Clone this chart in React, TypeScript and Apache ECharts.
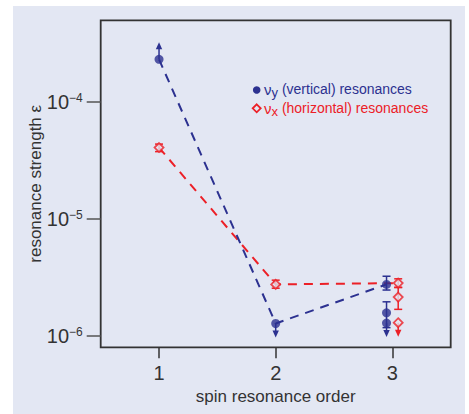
import React, { useEffect, useRef } from "react";
import * as echarts from "echarts";

// Spin resonance order (x) and measured resonance strength (y) per family
const VY_ORDER = [1, 2, 2.95, 2.95, 2.95];
const VY_STRENGTH = [2.3e-4, 1.28e-6, 2.76e-6, 1.58e-6, 1.29e-6];
const VY_TREND_COUNT = 3; // points joined by the dashed trend line

const VX_ORDER = [1, 2, 3.05, 3.05, 3.05];
const VX_STRENGTH = [4.06e-5, 2.76e-6, 2.83e-6, 2.15e-6, 1.3e-6];
const VX_TREND_COUNT = 3;

// Error bars: order, low, high
const VY_ERR_ORDER = [2.95, 2.95];
const VY_ERR_LOW = [2.47e-6, 1.18e-6];
const VY_ERR_HIGH = [3.24e-6, 1.96e-6];

const VX_ERR_ORDER = [1, 2, 3.05, 3.05];
const VX_ERR_LOW = [3.75e-5, 2.56e-6, 2.6e-6, 1.69e-6];
const VX_ERR_HIGH = [4.35e-5, 3.0e-6, 3.08e-6, 2.6e-6];

// Limits: order, strength, direction (+1 lower limit / arrow up, -1 upper limit / arrow down)
const VY_LIM_ORDER = [1, 2, 2.95];
const VY_LIM_VALUE = [2.3e-4, 1.28e-6, 1.29e-6];
const VY_LIM_DIR = [1, -1, -1];

const VX_LIM_ORDER = [3.05];
const VX_LIM_VALUE = [1.3e-6];
const VX_LIM_DIR = [-1];

const X_TICKS = [1, 2, 3];
const Y_DECADES = [-6, -5, -4];

const BLUE = "#2c3190";
const RED = "#ec2027";
const BG = "#e3e7f3";
const INK = "#333333";
const FONT = "'Liberation Sans', Arial, sans-serif";

const lg = (v: number) => Math.log10(v);

function points(xs: number[], ys: number[], n = xs.length) {
  return xs.slice(0, n).map((x, i) => [x, lg(ys[i])]);
}

function errorSeries(xs: number[], lo: number[], hi: number[], color: string) {
  return {
    type: "custom",
    z: 3,
    data: xs.map((x, i) => [x, lg(lo[i]), lg(hi[i])]),
    encode: { x: 0, y: [1, 2] },
    renderItem: (_p: any, api: any) => {
      const x = api.value(0);
      const a = api.coord([x, api.value(1)]);
      const b = api.coord([x, api.value(2)]);
      const w = 4;
      const style = { stroke: color, lineWidth: 1.5 };
      return {
        type: "group",
        children: [
          { type: "line", shape: { x1: a[0], y1: a[1], x2: b[0], y2: b[1] }, style },
          { type: "line", shape: { x1: a[0] - w, y1: a[1], x2: a[0] + w, y2: a[1] }, style },
          { type: "line", shape: { x1: b[0] - w, y1: b[1], x2: b[0] + w, y2: b[1] }, style },
        ],
      };
    },
  };
}

function limitSeries(xs: number[], vs: number[], dirs: number[], color: string) {
  return {
    type: "custom",
    z: 3,
    data: xs.map((x, i) => [x, lg(vs[i]), dirs[i]]),
    encode: { x: 0, y: 1 },
    renderItem: (_p: any, api: any) => {
      const p = api.coord([api.value(0), api.value(1)]);
      const dir = api.value(2);
      const len = dir > 0 ? 17 : 14;
      const tip = p[1] - dir * len;
      const head = 7;
      return {
        type: "group",
        children: [
          {
            type: "line",
            shape: { x1: p[0], y1: p[1], x2: p[0], y2: tip + dir * head * 0.6 },
            style: { stroke: color, lineWidth: 1.5 },
          },
          {
            type: "polygon",
            shape: {
              points: [
                [p[0] - 3.2, tip + dir * head],
                [p[0] + 3.2, tip + dir * head],
                [p[0], tip],
              ],
            },
            style: { fill: color },
          },
        ],
      };
    },
  };
}

function legendText(sub: string, rest: string, color: string) {
  return {
    text: `{g|\u03bd}{sub|${sub}}{t| ${rest}}`,
    verticalAlign: "middle",
    rich: {
      g: { fontSize: 15, lineHeight: 20, fill: color, fontFamily: FONT },
      sub: { fontSize: 13, lineHeight: 10, verticalAlign: "bottom", fill: color, fontFamily: FONT },
      t: { fontSize: 14, lineHeight: 20, fill: color, fontFamily: FONT },
    },
  };
}

export default function App() {
  const ref = useRef<HTMLDivElement>(null);

  useEffect(() => {
    if (!ref.current) return;
    const chart = echarts.init(ref.current, undefined, { renderer: "svg" });

    const option: any = {
      animation: false,
      backgroundColor: "#ffffff",
      textStyle: { fontFamily: FONT },
      grid: {
        left: 100.7,
        right: 18.3,
        top: 20.3,
        bottom: 66.7,
        show: true,
        borderColor: INK,
        borderWidth: 1.8,
        backgroundColor: "transparent",
      },
      xAxis: {
        type: "value",
        min: 0.5,
        max: 3.5,
        splitLine: { show: false },
        axisLine: { show: false },
        axisTick: {
          show: true,
          customValues: X_TICKS,
          length: 11,
          lineStyle: { color: INK, width: 1.5 },
        },
        axisLabel: {
          customValues: X_TICKS,
          margin: 16,
          color: INK,
          fontSize: 20,
          fontFamily: FONT,
        },
        name: "spin resonance order",
        nameLocation: "middle",
        nameGap: 41,
        nameMoveOverlap: false,
        nameTextStyle: { color: INK, fontSize: 17, fontFamily: FONT },
      },
      yAxis: {
        type: "value",
        min: -6.096,
        max: -3.305,
        splitLine: { show: false },
        axisLine: { show: false },
        axisTick: {
          show: true,
          customValues: Y_DECADES,
          length: 14,
          lineStyle: { color: "#555555", width: 1.5 },
        },
        axisLabel: {
          customValues: Y_DECADES,
          margin: 18,
          color: INK,
          fontFamily: FONT,
          formatter: (v: number) => `{b|10}{s|\u2212${Math.abs(Math.round(v))}}`,
          rich: {
            b: { fontSize: 20, lineHeight: 20, color: INK, fontFamily: FONT },
            s: { fontSize: 12, lineHeight: 13, verticalAlign: "top", color: INK, fontFamily: FONT },
          },
        },
        name: "resonance strength \u03b5",
        nameLocation: "middle",
        nameGap: 57,
        nameMoveOverlap: false,
        nameTextStyle: { color: INK, fontSize: 17, fontFamily: FONT },
      },
      graphic: [
        {
          type: "rect",
          z: -100,
          silent: true,
          shape: { x: 13, y: 6, width: 452, height: 408 },
          style: { fill: BG },
        },
        {
          type: "circle",
          shape: { cx: 256.7, cy: 90, r: 3.8 },
          style: { fill: BLUE },
        },
        {
          type: "text",
          x: 264,
          y: 89,
          style: legendText("y", "(vertical) resonances", BLUE),
        },
        {
          type: "polygon",
          shape: {
            points: [
              [256.7, 104.3],
              [260.7, 108.3],
              [256.7, 112.3],
              [252.7, 108.3],
            ],
          },
          style: { fill: BG, stroke: RED, lineWidth: 1.8 },
        },
        {
          type: "text",
          x: 264,
          y: 108,
          style: legendText("x", "(horizontal) resonances", RED),
        },
      ],
      series: [
        {
          type: "line",
          z: 1,
          data: points(VX_ORDER, VX_STRENGTH, VX_TREND_COUNT),
          symbol: "none",
          lineStyle: { color: RED, width: 2, type: [9, 7] },
        },
        {
          type: "line",
          z: 2,
          data: points(VY_ORDER, VY_STRENGTH, VY_TREND_COUNT),
          symbol: "none",
          lineStyle: { color: BLUE, width: 2, type: [9, 7] },
        },
        errorSeries(VY_ERR_ORDER, VY_ERR_LOW, VY_ERR_HIGH, BLUE),
        errorSeries(VX_ERR_ORDER, VX_ERR_LOW, VX_ERR_HIGH, RED),
        limitSeries(VY_LIM_ORDER, VY_LIM_VALUE, VY_LIM_DIR, BLUE),
        limitSeries(VX_LIM_ORDER, VX_LIM_VALUE, VX_LIM_DIR, RED),
        {
          type: "scatter",
          z: 4,
          data: points(VY_ORDER, VY_STRENGTH),
          symbol: "circle",
          symbolSize: 9,
          itemStyle: { color: BLUE },
        },
        {
          type: "scatter",
          z: 4,
          data: points(VX_ORDER, VX_STRENGTH),
          symbol: "diamond",
          symbolSize: 9,
          itemStyle: { color: BG, borderColor: RED, borderWidth: 1.8 },
        },
      ],
    };

    chart.setOption(option);
    return () => chart.dispose();
  }, []);

  return (
    <div
      ref={ref}
      style={{ position: "absolute", left: 0, top: 0, width: 469, height: 414 }}
    />
  );
}
